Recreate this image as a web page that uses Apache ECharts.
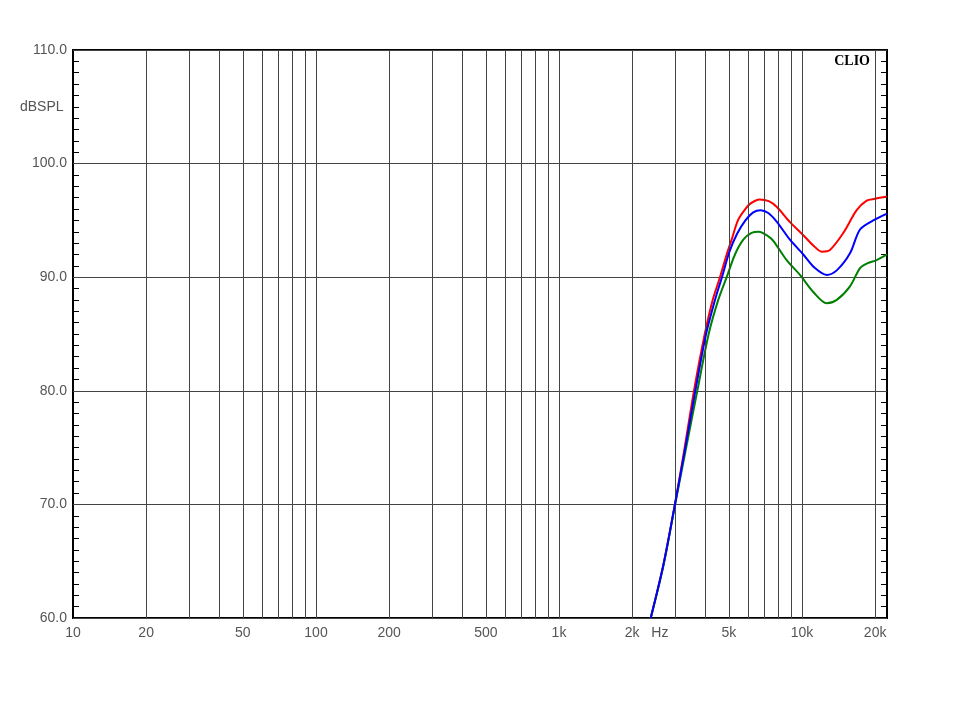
<!DOCTYPE html>
<html>
<head>
<meta charset="utf-8">
<script src="https://cdn.jsdelivr.net/npm/echarts@6/dist/echarts.min.js"></script>
<style>html,body{margin:0;padding:0;background:#fff}#c{width:960px;height:720px}</style>
</head>
<body>
<div id="c"></div>
<script>
// ---- data ----
const gridFreqs = [20,30,40,50,60,70,80,90,100,200,300,400,500,600,700,800,900,1000,2000,3000,4000,5000,6000,7000,8000,9000,10000,20000];
const xTickValues = [10,20,50,100,200,500,1000,2000,5000,10000,20000];
const xTickText = ['10','20','50','100','200','500','1k','2k','5k','10k','20k'];
const unitFreq = 2600;
const unitText = 'Hz';

const redFreq = [2385,2690,3000,3290,3593,3980,4291,4597,4898,5150,5450,5800,6150,6700,7300,7866,8925,10123,11130,12050,13030,14790,16790,18460,19970,22380];
const redDb   = [60.0,64.7,70.0,75.0,80.0,85.0,88.0,90.0,92.0,93.4,95.0,95.9,96.5,96.85,96.7,96.2,94.85,93.7,92.8,92.25,92.4,93.9,95.9,96.74,96.9,97.1];

const blueFreq = [2385,2690,3000,3310,3640,4030,4385,4685,5020,5400,5850,6300,6750,7267,7866,8925,10123,11310,12640,13900,15760,17330,19650,22380];
const blueDb   = [60.0,64.7,70.0,75.0,80.0,85.0,88.0,90.0,92.2,93.8,95.0,95.7,95.9,95.65,94.9,93.3,92.0,90.8,90.2,90.6,92.1,94.2,95.0,95.6];

const greenFreq = [2385,2690,3000,3330,3709,4130,4523,4898,5300,5735,6200,6650,7267,7620,8650,9812,11130,12640,13900,15760,17330,18460,20280,22380];
const greenDb   = [60.0,64.6,69.9,74.9,80.0,85.0,88.0,90.0,92.0,93.3,93.9,94.0,93.6,93.2,91.5,90.2,88.7,87.7,88.0,89.2,90.8,91.2,91.5,92.0];

const xMin = 10, xMax = 22380;
const yMin = 60, yMax = 110, yStep = 10;

// ---- build ----
const pairs = (f, d) => f.map((v, i) => [v, d[i]]);
const gridLineData = gridFreqs.map(v => ({ xAxis: v, label: { show: false } }));
const labelData = xTickValues.map((v, i) => ({ xAxis: v, name: xTickText[i], lineStyle: { color: 'rgba(0,0,0,0)', width: 0 } }))
  .concat([{ xAxis: unitFreq, name: unitText, lineStyle: { color: 'rgba(0,0,0,0)', width: 0 } }]);

const chart = echarts.init(document.getElementById('c'), null, { renderer: 'canvas' });
const labelFont = { color: '#555', fontSize: 14, fontFamily: 'Liberation Sans, Arial, sans-serif' };
const curve = (name, color, data, z) => ({
  name, type: 'line', data, showSymbol: false, symbol: 'none', smooth: 0.3,
  lineStyle: { color, width: 2 }, itemStyle: { color }, z, clip: true, animation: false
});

chart.setOption({
  animation: false,
  backgroundColor: '#fff',
  grid: { left: 73, right: 73, top: 50, bottom: 102, show: true, borderColor: '#000', borderWidth: 2, backgroundColor: 'transparent' },
  xAxis: {
    type: 'log', logBase: 10, min: xMin, max: xMax,
    axisLine: { show: false }, axisTick: { show: false }, axisLabel: { show: false }, splitLine: { show: false }
  },
  yAxis: [
    {
      type: 'value', min: yMin, max: yMax, interval: yStep, position: 'left',
      axisLine: { show: false },
      axisTick: { show: false, inside: true },
      minorTick: { show: true, splitNumber: 10, length: 6, lineStyle: { color: '#000', width: 1 } },
      axisLabel: Object.assign({ formatter: v => v.toFixed(1), margin: 6 }, labelFont),
      splitLine: { show: true, lineStyle: { color: '#444', width: 1 } }
    },
    {
      type: 'value', min: yMin, max: yMax, interval: yStep, position: 'right',
      axisLine: { show: false },
      axisTick: { show: false, inside: true },
      minorTick: { show: true, splitNumber: 10, length: 6, lineStyle: { color: '#000', width: 1 } },
      axisLabel: { show: false },
      splitLine: { show: false }
    }
  ],
  series: [
    {
      type: 'line', data: [], z: 1, silent: true,
      markLine: {
        silent: true, symbol: ['none', 'none'], animation: false,
        lineStyle: { color: '#444', width: 1, type: 'solid' },
        label: Object.assign({ show: true, position: 'start', formatter: '{b}', distance: 8 }, labelFont),
        emphasis: { disabled: true },
        data: gridLineData.concat(labelData)
      }
    },
    curve('red', '#ff0000', pairs(redFreq, redDb), 3),
    curve('green', '#008000', pairs(greenFreq, greenDb), 4),
    curve('blue', '#0000ff', pairs(blueFreq, blueDb), 5)
  ],
  graphic: [
    { type: 'text', left: 20, top: 100, style: { text: 'dBSPL', fill: '#555', font: '14px Liberation Sans, Arial, sans-serif' } },
    { type: 'text', right: 90, top: 54, style: { text: 'CLIO', fill: '#000', font: 'bold 14px Liberation Serif, Times New Roman, serif' } }
  ]
});
</script>
</body>
</html>
